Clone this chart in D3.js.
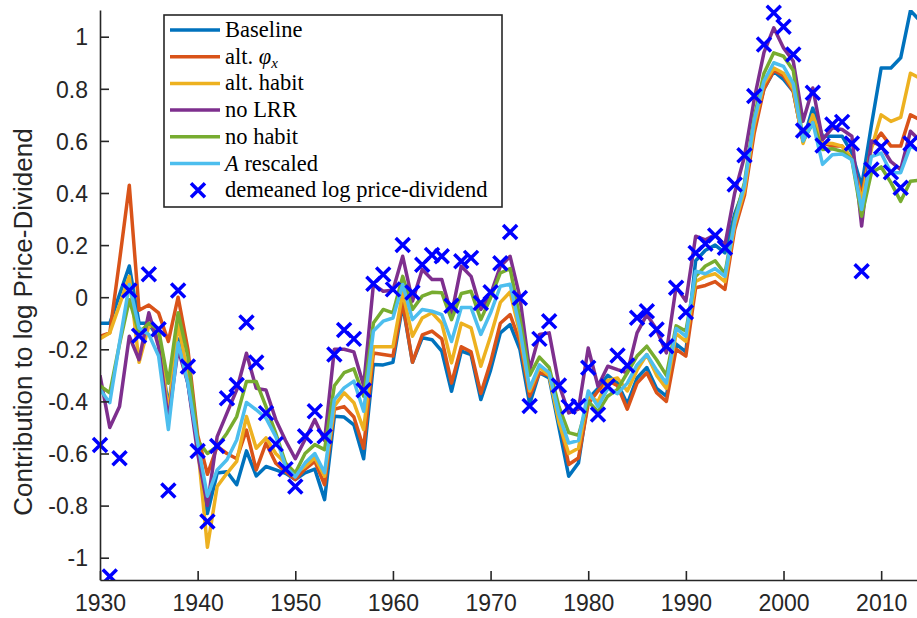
<!DOCTYPE html>
<html>
<head>
<meta charset="utf-8">
<script src="https://cdn.jsdelivr.net/npm/d3@7"></script>
<style>
  html, body { margin: 0; padding: 0; background: #fff; }
  svg { display: block; }
</style>
</head>
<body>
<svg id="chart" width="917" height="618"></svg>
<script>
// ---------------- DATA ----------------
const lineYears = [1930,1931,1932,1933,1934,1935,1936,1937,1938,1939,
  1940,1941,1942,1943,1944,1945,1946,1947,1948,1949,
  1950,1951,1952,1953,1954,1955,1956,1957,1958,1959,
  1960,1961,1962,1963,1964,1965,1966,1967,1968,1969,
  1970,1971,1972,1973,1974,1975,1976,1977,1978,1979,
  1980,1981,1982,1983,1984,1985,1986,1987,1988,1989,
  1990,1991,1992,1993,1994,1995,1996,1997,1998,1999,
  2000,2001,2002,2003,2004,2005,2006,2007,2008,2009,
  2010,2011,2012,2013,2014];

const baseline = [-0.10,-0.10,0.01,0.12,-0.10,-0.10,-0.16,-0.42,-0.16,-0.33,
  -0.57,-0.83,-0.675,-0.67,-0.72,-0.59,-0.686,-0.65,-0.663,-0.676,
  -0.70,-0.674,-0.66,-0.777,-0.457,-0.46,-0.49,-0.62,-0.258,-0.26,
  -0.25,-0.03,-0.25,-0.156,-0.163,-0.207,-0.361,-0.207,-0.22,-0.393,
  -0.28,-0.137,-0.105,-0.20,-0.41,-0.29,-0.31,-0.50,-0.687,-0.636,
  -0.39,-0.35,-0.30,-0.33,-0.41,-0.31,-0.27,-0.35,-0.38,-0.18,
  -0.21,0.14,0.18,0.20,0.17,0.32,0.42,0.66,0.80,0.867,
  0.836,0.79,0.60,0.726,0.618,0.618,0.618,0.554,0.426,0.66,
  0.88,0.88,0.919,1.10,1.06];

const altPhiX = [-0.15,-0.137,0.14,0.43,-0.05,-0.03,-0.06,-0.17,0.0,-0.20,
  -0.53,-0.68,-0.573,-0.60,-0.62,-0.51,-0.663,-0.56,-0.637,-0.67,
  -0.70,-0.66,-0.63,-0.72,-0.43,-0.42,-0.46,-0.58,-0.214,-0.22,
  -0.226,-0.02,-0.25,-0.145,-0.13,-0.16,-0.33,-0.19,-0.21,-0.37,
  -0.25,-0.10,-0.067,-0.17,-0.38,-0.29,-0.30,-0.46,-0.642,-0.617,
  -0.41,-0.36,-0.32,-0.34,-0.43,-0.33,-0.29,-0.367,-0.40,-0.20,
  -0.226,0.036,0.045,0.06,0.03,0.26,0.39,0.63,0.80,0.87,
  0.85,0.79,0.60,0.67,0.592,0.58,0.58,0.53,0.39,0.58,
  0.63,0.58,0.58,0.70,0.68];

const altHabit = [-0.16,-0.137,-0.03,0.08,-0.25,-0.11,-0.12,-0.45,-0.10,-0.30,
  -0.57,-0.96,-0.727,-0.676,-0.63,-0.458,-0.58,-0.54,-0.60,-0.637,
  -0.676,-0.65,-0.617,-0.687,-0.418,-0.367,-0.405,-0.508,-0.19,-0.19,
  -0.19,0.017,-0.15,-0.08,-0.06,-0.10,-0.252,-0.10,-0.118,-0.265,
  -0.15,-0.02,0.02,-0.14,-0.36,-0.27,-0.30,-0.48,-0.60,-0.58,
  -0.38,-0.40,-0.32,-0.31,-0.36,-0.28,-0.22,-0.30,-0.35,-0.14,
  -0.17,0.06,0.08,0.09,0.06,0.28,0.41,0.66,0.82,0.88,
  0.86,0.80,0.59,0.70,0.592,0.59,0.58,0.53,0.37,0.57,
  0.70,0.675,0.69,0.86,0.84];

const noLRR = [-0.30,-0.50,-0.42,-0.15,-0.24,-0.06,-0.19,-0.47,-0.20,-0.33,
  -0.60,-0.80,-0.535,-0.445,-0.356,-0.215,-0.35,-0.356,-0.47,-0.55,
  -0.62,-0.546,-0.47,-0.55,-0.20,-0.20,-0.21,-0.34,0.049,0.023,
  0.027,0.157,-0.015,0.106,0.068,0.068,-0.067,0.119,0.08,-0.047,
  0.01,0.119,0.157,0.0,-0.28,-0.143,-0.137,-0.335,-0.444,-0.43,
  -0.195,-0.342,-0.265,-0.278,-0.29,-0.137,-0.067,-0.124,-0.214,0.04,
  -0.015,0.234,0.22,0.24,0.20,0.40,0.54,0.76,0.94,1.034,
  0.957,0.906,0.675,0.803,0.605,0.65,0.644,0.618,0.273,0.60,
  0.58,0.52,0.49,0.637,0.60];

const noHabit = [-0.34,-0.367,-0.18,-0.01,-0.137,-0.10,-0.124,-0.33,-0.06,-0.226,
  -0.55,-0.60,-0.573,-0.522,-0.458,-0.324,-0.324,-0.42,-0.522,-0.637,
  -0.675,-0.60,-0.566,-0.585,-0.34,-0.29,-0.275,-0.38,-0.099,-0.047,
  -0.06,0.08,-0.047,0.004,0.019,0.017,-0.086,0.014,0.023,-0.086,
  -0.003,0.093,0.11,-0.08,-0.30,-0.23,-0.27,-0.42,-0.52,-0.53,
  -0.40,-0.44,-0.38,-0.354,-0.29,-0.226,-0.188,-0.24,-0.30,-0.11,
  -0.13,0.08,0.12,0.14,0.09,0.30,0.44,0.69,0.86,0.938,
  0.925,0.87,0.60,0.67,0.567,0.57,0.56,0.528,0.311,0.478,
  0.50,0.44,0.368,0.445,0.45];

const aRescaled = [-0.354,-0.405,-0.175,0.049,-0.118,-0.143,-0.226,-0.508,-0.175,-0.33,
  -0.56,-0.764,-0.663,-0.624,-0.548,-0.404,-0.432,-0.464,-0.535,-0.65,
  -0.69,-0.636,-0.60,-0.674,-0.393,-0.348,-0.322,-0.438,-0.13,-0.092,
  -0.08,0.049,-0.086,-0.047,-0.054,-0.067,-0.17,-0.04,-0.04,-0.143,
  -0.06,0.042,0.05,-0.12,-0.35,-0.26,-0.29,-0.45,-0.56,-0.55,
  -0.36,-0.42,-0.35,-0.37,-0.33,-0.26,-0.22,-0.28,-0.33,-0.12,
  -0.15,0.10,0.09,0.11,0.08,0.29,0.43,0.68,0.83,0.90,
  0.886,0.82,0.60,0.67,0.51,0.547,0.55,0.528,0.337,0.54,
  0.553,0.478,0.478,0.58,0.56];

const pdYears = [1930,1931,1932,1933,1934,1935,1936,1937,1938,1939,
  1940,1941,1942,1943,1944,1945,1946,1947,1948,1949,
  1950,1951,1952,1953,1954,1955,1956,1957,1958,1959,
  1960,1961,1962,1963,1964,1965,1966,1967,1968,1969,
  1970,1971,1972,1973,1974,1975,1976,1977,1978,1979,
  1980,1981,1982,1983,1984,1985,1986,1987,1988,1989,
  1990,1991,1992,1993,1994,1995,1996,1997,1998,1999,
  2000,2001,2002,2003,2004,2005,2006,2007,2008,2009,
  2010,2011,2012,2013];

const demeanedPD = [-0.567,-1.072,-0.618,0.026,-0.148,0.088,-0.123,-0.742,0.026,-0.266,
  -0.59,-0.861,-0.571,-0.388,-0.337,-0.097,-0.251,-0.445,-0.564,-0.66,
  -0.727,-0.534,-0.438,-0.534,-0.22,-0.126,-0.16,-0.357,0.052,0.087,
  0.03,0.20,0.018,0.125,0.162,0.157,-0.033,0.138,0.151,-0.022,
  0.019,0.13,0.25,-0.003,-0.418,-0.16,-0.092,-0.339,-0.421,-0.418,
  -0.271,-0.45,-0.342,-0.224,-0.262,-0.079,-0.054,-0.124,-0.188,0.036,
  -0.058,0.17,0.205,0.237,0.19,0.433,0.545,0.772,0.97,1.092,
  1.038,0.932,0.64,0.785,0.582,0.663,0.673,0.59,0.10,0.49,
  0.577,0.48,0.42,0.59];

const seriesNames = ["Baseline", "alt. φx", "alt. habit", "no LRR", "no habit", "A rescaled"];
const seriesValues = [baseline, altPhiX, altHabit, noLRR, noHabit, aRescaled];
const seriesColors = ["#0072BD", "#D95319", "#EDB120", "#7E2F8E", "#77AC30", "#4DBEEE"];
const markerName = "demeaned log price-dividend";

const xTicks = [1930,1940,1950,1960,1970,1980,1990,2000,2010];
const yTicks = [-1,-0.8,-0.6,-0.4,-0.2,0,0.2,0.4,0.6,0.8,1];
const yTickLabels = ["-1","-0.8","-0.6","-0.4","-0.2","0","0.2","0.4","0.6","0.8","1"];
const yLabel = "Contribution to log Price-Dividend";

// ---------------- LAYOUT ----------------
const L = 100, R = 917, T = 10, B = 580;
const axisColor = "#262626";
const svg = d3.select("#chart");

const x = d3.scaleLinear().domain([1930, 2013.67]).range([L, R]);
const y = d3.scaleLinear().domain([-1.0856, 1.1025]).range([B, T]);

const defs = svg.append("defs");
defs.append("clipPath").attr("id", "plotclip")
  .append("rect").attr("x", L).attr("y", T).attr("width", R - L).attr("height", B - T);
defs.append("clipPath").attr("id", "markclip")
  .append("rect").attr("x", 0).attr("y", 0).attr("width", R).attr("height", B);

const plot = svg.append("g").attr("clip-path", "url(#plotclip)");

const line = d3.line().x(d => x(d[0])).y(d => y(d[1]));

seriesValues.forEach((vals, i) => {
  plot.append("path")
    .datum(lineYears.map((yr, j) => [yr, vals[j]]))
    .attr("d", line)
    .attr("fill", "none")
    .attr("stroke", seriesColors[i])
    .attr("stroke-width", 3.5)
    .attr("stroke-linejoin", "round");
});

const xMark = "M-7,-7L7,7M-7,7L7,-7";
svg.append("g").attr("clip-path", "url(#markclip)")
  .selectAll("path.pd")
  .data(pdYears.map((yr, j) => [yr, demeanedPD[j]]))
  .enter().append("path")
  .attr("class", "pd")
  .attr("d", xMark)
  .attr("transform", d => `translate(${x(d[0])},${y(d[1])})`)
  .attr("fill", "none")
  .attr("stroke", "#0000FF")
  .attr("stroke-width", 3.5);

// ---------------- AXES ----------------
const fontAxis = "'Liberation Sans', Arial, Helvetica, sans-serif";

const gx = svg.append("g").attr("transform", `translate(0,${B})`)
  .call(d3.axisBottom(x).tickValues(xTicks).tickFormat(d3.format("d"))
    .tickSize(-9).tickSizeOuter(0).tickPadding(15));
const gy = svg.append("g").attr("transform", `translate(${L},0)`)
  .call(d3.axisLeft(y).tickValues(yTicks).tickFormat((d, i) => yTickLabels[i])
    .tickSize(-9).tickSizeOuter(0).tickPadding(12));

[gx, gy].forEach(g => {
  g.select(".domain").attr("stroke", axisColor).attr("stroke-width", 1.6);
  g.selectAll(".tick line").attr("stroke", axisColor).attr("stroke-width", 1.6);
  g.selectAll(".tick text").attr("fill", axisColor)
    .style("font-family", fontAxis).style("font-size", "23px");
});
gy.selectAll(".tick text").attr("dy", "0.36em");

svg.append("text")
  .attr("transform", "translate(31.5,322) rotate(-90)")
  .attr("text-anchor", "middle")
  .attr("fill", axisColor)
  .style("font-family", fontAxis).style("font-size", "26px")
  .text(yLabel);

// ---------------- LEGEND ----------------
const leg = svg.append("g");
leg.append("rect").attr("x", 164).attr("y", 15).attr("width", 338).attr("height", 192)
  .attr("fill", "#fff").attr("stroke", axisColor).attr("stroke-width", 1.6);

const rowY = i => 30 + i * 26.7;
const fontLeg = "'Liberation Serif', 'Times New Roman', serif";

seriesNames.forEach((name, i) => {
  leg.append("line").attr("x1", 170).attr("x2", 220).attr("y1", rowY(i)).attr("y2", rowY(i))
    .attr("stroke", seriesColors[i]).attr("stroke-width", 3.5);
  const t = leg.append("text").attr("x", 225).attr("y", rowY(i) + 7)
    .attr("fill", "#000").style("font-family", fontLeg).style("font-size", "22.5px");
  if (name === "alt. φx") {
    t.append("tspan").text("alt. ");
    t.append("tspan").style("font-style", "italic").text("φ");
    t.append("tspan").style("font-style", "italic").style("font-size", "15px")
      .attr("dy", 4).text("x");
  } else if (name === "A rescaled") {
    t.append("tspan").style("font-style", "italic").text("A");
    t.append("tspan").text(" rescaled");
  } else {
    t.text(name);
  }
});
leg.append("path").attr("d", xMark)
  .attr("transform", `translate(198,${rowY(6)})`)
  .attr("fill", "none").attr("stroke", "#0000FF").attr("stroke-width", 3.5);
leg.append("text").attr("x", 225).attr("y", rowY(6) + 7)
  .style("font-family", fontLeg).style("font-size", "22.5px").attr("fill", "#000")
  .text(markerName);
</script>
</body>
</html>
